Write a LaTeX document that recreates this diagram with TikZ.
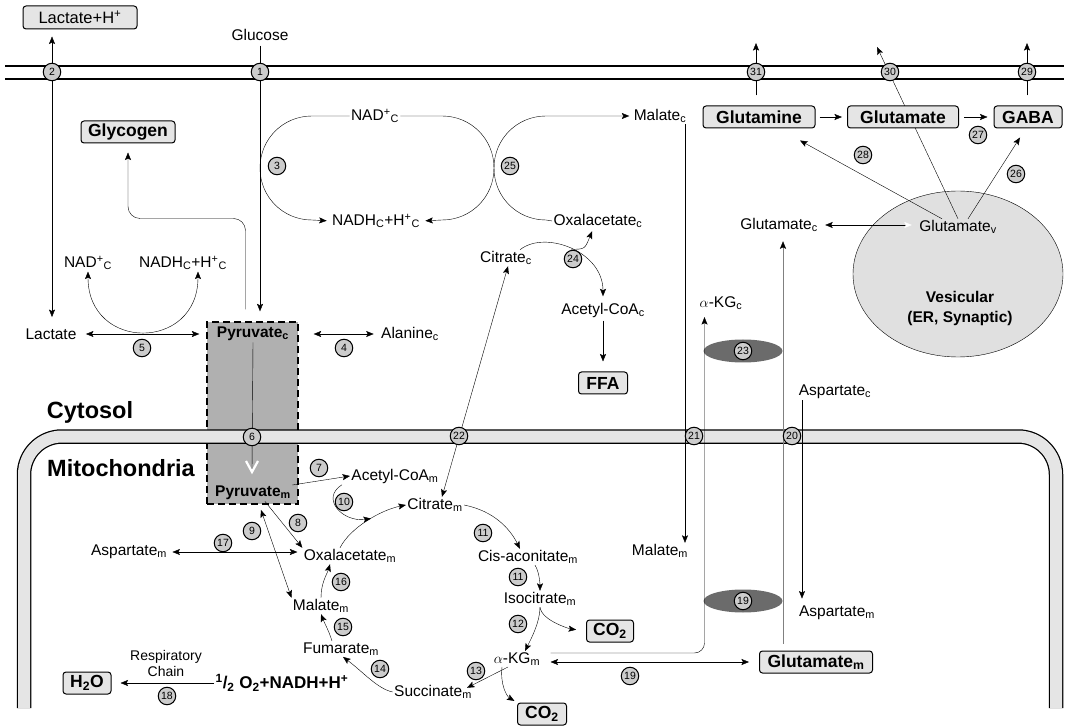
\documentclass[tikz,border=0pt]{standalone}
\usepackage{fontspec}
\setmainfont{Liberation Sans}
\usetikzlibrary{arrows.meta,shapes.geometric,calc}

\definecolor{boxgray}{gray}{0.9}
\definecolor{numgray}{gray}{0.8}
\definecolor{pyrgray}{gray}{0.69}
\definecolor{membgray}{gray}{0.9}
\definecolor{vesgray}{gray}{0.88}
\definecolor{darkell}{gray}{0.42}

\pgfdeclarelayer{back}
\pgfdeclarelayer{mid}
\pgfsetlayers{back,mid,main}

\tikzset{
  lbl/.style={font=\fontsize{15.5}{17}\selectfont, inner sep=1pt},
  blbl/.style={font=\bfseries\fontsize{15.5}{17}\selectfont, inner sep=1pt},
  bx/.style={draw, rounded corners=3pt, fill=boxgray, font=\bfseries\fontsize{17.5}{19}\selectfont, inner sep=0pt, minimum height=22pt},
  num/.style={circle, draw, fill=numgray, inner sep=0pt, minimum size=17.5pt, font=\fontsize{10.5}{10.5}\selectfont},
  compname/.style={font=\bfseries\fontsize{23.5}{26}\selectfont, inner sep=0pt},
  arr/.style={-{Stealth[length=7.5pt,width=6pt,inset=1.5pt]}},
  darr/.style={{Stealth[length=7.5pt,width=6pt,inset=1.5pt]}-{Stealth[length=7.5pt,width=6pt,inset=1.5pt]}},
  arrg/.style={draw=gray, -{Stealth[length=7.5pt,width=6pt,inset=1.5pt,black]}},
}

\begin{document}
\begin{tikzpicture}[x=1pt,y=-1pt,line width=1pt]
  \useasboundingbox (0,0) rectangle (1069,727);

  % Citosol
  \node[bx, font=\fontsize{16.5}{18}\selectfont, minimum width=114pt, minimum height=23pt] (lach) at (80,17.5) {Lactate+H\textsuperscript{+}};
  \node[lbl] (glucose) at (260,35) {Glucose};
  \node[bx, minimum width=94pt] (glyc) at (128,132) {Glycogen};
  \node[lbl] (nadc) at (375,116) {NAD\textsuperscript{+}\textsubscript{C}};
  \node[lbl] (nadhc) at (376,221) {NADH\textsubscript{C}+H\textsuperscript{+}\textsubscript{C}};
  \node[lbl] (malc) at (660,116) {Malate\textsubscript{c}};
  \node[lbl] (oaac) at (598,221) {Oxalacetate\textsubscript{c}};
  \node[lbl] (citc) at (506,258) {Citrate\textsubscript{c}};
  \node[lbl] (accoac) at (603,310) {Acetyl-CoA\textsubscript{c}};
  \node[bx, minimum width=49pt] (ffa) at (603,383) {FFA};
  \node[lbl] (nad2) at (88,263) {NAD\textsuperscript{+}\textsubscript{C}};
  \node[lbl] (nadh2) at (183,263) {NADH\textsubscript{C}+H\textsuperscript{+}\textsubscript{C}};
  \node[lbl] (lac) at (51,334) {Lactate};
  \node[blbl] (pyrc) at (253,334) {Pyruvate\textsubscript{c}};
  \node[lbl] (alac) at (410,334) {Alanine\textsubscript{c}};
  \node[compname] (cyto) at (90,412) {Cytosol};
  \node[compname] (mito) at (121,468) {Mitochondria};

  % Mitocondria
  \node[blbl] (pyrm) at (253,493) {Pyruvate\textsubscript{m}};
  \node[lbl] (accoam) at (395,476) {Acetyl-CoA\textsubscript{m}};
  \node[lbl] (citm) at (435,505) {Citrate\textsubscript{m}};
  \node[lbl] (cisac) at (528,557) {Cis-aconitate\textsubscript{m}};
  \node[lbl] (isoc) at (540,599) {Isocitrate\textsubscript{m}};
  \node[bx, minimum width=47pt] (co2a) at (610,631) {CO\textsubscript{2}};
  \node[lbl] (akgm) at (517,659) {$\alpha$-KG\textsubscript{m}};
  \node[bx, minimum width=49pt] (co2b) at (542,714) {CO\textsubscript{2}};
  \node[lbl] (succ) at (433,692) {Succinate\textsubscript{m}};
  \node[lbl] (fum) at (341,649) {Fumarate\textsubscript{m}};
  \node[lbl] (malm) at (321,606) {Malate\textsubscript{m}};
  \node[lbl] (oaam) at (350,556) {Oxalacetate\textsubscript{m}};
  \node[lbl] (aspm) at (129,552) {Aspartate\textsubscript{m}};
  \node[blbl, font=\bfseries\fontsize{17}{19}\selectfont] (o2) at (282,683) {\textsuperscript{1}/\textsubscript{2} O\textsubscript{2}+NADH+H\textsuperscript{+}};
  \node[bx, minimum width=48pt] (h2o) at (87,683) {H\textsubscript{2}O};
  \node[lbl, font=\fontsize{14}{16}\selectfont, align=center] (resp) at (166,663) {Respiratory\\Chain};
  \node[lbl] (malm2) at (660,551) {Malate\textsubscript{m}};
  \node[lbl] (akgc) at (721,303) {$\alpha$-KG\textsubscript{c}};
  \node[bx, minimum width=113pt] (glum) at (816,662) {Glutamate\textsubscript{m}};
  \node[lbl] (aspc) at (835,392) {Aspartate\textsubscript{c}};
  \node[lbl] (aspm2) at (837,613) {Aspartate\textsubscript{m}};

  % Glutamato
  \node[lbl] (glutc) at (779,225) {Glutamate\textsubscript{c}};
  \node[lbl] (glutv) at (958,227) {Glutamate\textsubscript{v}};
  \node[bx, minimum width=112pt] (glnt) at (759,117) {Glutamine};
  \node[bx, minimum width=111pt] (glut) at (903,117) {Glutamate};
  \node[bx, minimum width=68pt] (gaba) at (1028,117) {GABA};
  \node[blbl, font=\bfseries\fontsize{15.5}{20}\selectfont, align=center] (vestxt) at (960,308) {Vesicular\\(ER, Synaptic)};

  \coordinate (kiss3) at (260,168);
  \coordinate (kiss25) at (494,168);
  \coordinate (out31) at (756,43);
  \coordinate (out30) at (877,47);
  \coordinate (out29) at (1027,43);

  % Transportadores
  \foreach \nm/\n/\x/\y in {c1/1/260/72, c2/2/52/72, c3/3/277/166, c4/4/344/348, c5/5/142/348,
      c6/6/252/437, c7/7/319/468, c8/8/298/523, c9/9/252/531, c10/10/344/502, c11a/11/483/533,
      c11b/11/518/577, c12/12/518/624, c13/13/476/671, c14/14/380/669, c15/15/343/627,
      c16/16/341/582, c17/17/223/543, c18/18/167/696, c19a/19/630/676, c19b/19/743/601,
      c20/20/792/436, c21/21/694/436, c22/22/459/436, c23/23/743/351, c24/24/573/259,
      c25/25/510/166, c26/26/1016/174, c27/27/978/135, c28/28/863/155, c29/29/1027/72,
      c30/30/890/72, c31/31/756/72}
    \node[num] (\nm) at (\x,\y) {\n};

  \begin{pgfonlayer}{back}
    % Membranas
    \draw[line width=1.4pt] (5,66) -- (1064,66);
    \draw[line width=1.4pt] (5,79) -- (1064,79);
    \node[draw, dash pattern=on 7pt off 4pt, line width=1.3pt, fill=pyrgray, minimum width=91pt, minimum height=182pt, inner sep=0pt] (pyrbox) at (252.5,413) {};
    \draw[line width=14.5pt, rounded corners=38pt] (24,708) |- (1056,436.5) -- (1056,708);
    \draw[line width=12pt, membgray, rounded corners=38pt] (24,708) |- (1056,436.5) -- (1056,708);
    \node[ellipse, draw, fill=vesgray, minimum width=210pt, minimum height=166pt, inner sep=0pt] (ves) at (958,274) {};
    \node[ellipse, fill=darkell, minimum width=79pt, minimum height=23pt, inner sep=0pt] (ch23) at (743,351) {};
    \node[ellipse, fill=darkell, minimum width=79pt, minimum height=23pt, inner sep=0pt] (ch19) at (743,601) {};
  \end{pgfonlayer}

  \begin{pgfonlayer}{mid}
    % Glicolise
    \draw[arr, shorten <=3.5pt, shorten >=10pt] (glucose.south) -- (glucose.south |- pyrbox.north);
    \draw[darr, shorten <=7pt, shorten >=10pt] (c2 |- lach.south) -- (c2 |- lac.north);
    \draw[arr, rounded corners=12pt] ([xshift=-7pt,yshift=12pt]pyrbox.north) |- ([yshift=-75pt]glyc.south) -- ([yshift=-9pt]glyc.south);
    \draw[arr, shorten >=4pt] (nadc.west) -- ($(kiss3)+(52,-52)$) .. controls +(-29,0) and +(0,-29) .. (kiss3)
      .. controls +(0,29) and +(-29,0) .. ($(kiss3)+(52,52)$) -- (nadhc.west);
    \draw[arr, shorten >=4pt] (nadc.east) -- ($(kiss25)+(-52,-52)$) .. controls +(29,0) and +(0,-29) .. (kiss25)
      .. controls +(0,29) and +(29,0) .. ($(kiss25)+(-52,52)$) -- (nadhc.east);
    \draw[arr, shorten >=3pt] (oaac.west) -- ($(kiss25)+(52,52)$) .. controls +(-29,0) and +(0,29) .. (kiss25)
      .. controls +(0,-29) and +(-29,0) .. ($(kiss25)+(52,-52)$) -- (malc.west);

    % Lactato e alanina
    \draw[darr] (nad2.south) .. controls +(0,80) and +(0,80) .. ([xshift=15pt]nadh2.south);
    \draw[darr, shorten <=8pt, shorten >=7pt] (lac.east) -- (lac -| pyrbox.west);
    \draw[darr, shorten <=15pt, shorten >=6pt] (pyrbox.east |- alac) -- (alac.west);

    % Piruvato
    \draw (pyrc.south) -- ($(c6)+(0,33)$);
    \draw[white, line width=2.2pt] ($(c6)+(-6,24)$) -- ($(c6)+(0,35)$) -- ($(c6)+(6,24)$);
    \draw[arr] ([yshift=8pt]pyrm.east) -- (accoam.west);
    \draw[arr] ([xshift=12pt]pyrm.south) -- (oaam.north west);
    \draw[darr, shorten <=9pt] ([xshift=5pt]pyrm.south) -- (malm.north west);
    \draw[darr, shorten <=4pt, shorten >=5pt] (aspm.east) -- (aspm.east -| oaam.west);

    % Ciclo de Krebs
    \draw[arr] ([xshift=-10pt]oaam.north) .. controls +(10,-20) and +(-25,5) .. coordinate[pos=0.55] (m10) (citm.west);
    \draw[arr] ([xshift=-8pt]accoam.south west) .. controls +(-22,14) and +(-28,4) .. (m10);
    \draw[darr] ([xshift=7pt]citm.north) -- ([xshift=2pt]citc.south);
    \draw[arr] (citm.east) .. controls +(30,6) and +(-10,-20) .. ([xshift=-8pt]cisac.north);
    \draw[arr] ([xshift=7pt]cisac.south) .. controls +(4,6) and +(0,-8) .. (isoc.north);
    \draw[arr] (isoc.south) .. controls +(0,15) and +(6,-12) .. ([xshift=8pt]akgm.north);
    \draw[arr, shorten >=10pt] (isoc.south) .. controls +(2,14) and +(-15,-2) .. (co2a.west);
    \draw[arr] ([xshift=-9pt]akgm.south) -- ([xshift=34pt,yshift=-4pt]succ.north);
    \draw[arr, shorten >=3pt] ([xshift=-15pt]akgm.south) .. controls +(-2,18) and +(-10,-6) .. (co2b.north west);
    \draw[arr] (succ.west) .. controls +(-15,-3) and +(20,15) .. ([xshift=2pt]fum.south);
    \draw[arr] ([xshift=-9pt]fum.north) .. controls +(-3,-10) and +(4,10) .. (malm.south);
    \draw[arr] (malm.north) .. controls +(0,-15) and +(-3,10) .. ([xshift=-20pt]oaam.south);
    \draw[arr, shorten >=9pt] (o2.west) -- (h2o.east);

    % Transporte mitocondrial
    \draw[arr] ([xshift=25pt]malc.south) -- ([xshift=25pt]malm2.north);
    \draw[arr, rounded corners=10pt, shorten <=9pt, shorten >=6pt] ([yshift=6pt]akgm.east) -| ([xshift=-16.5pt]akgc.south);
    \draw[darr, shorten <=9pt, shorten >=10pt] ([yshift=-3pt]akgm.east) -- ([yshift=-3pt]akgm.east -| glum.west);
    \draw[arrg, shorten <=7pt, shorten >=8pt] ([xshift=-33pt]glum.north) -- ([xshift=-33pt]glum.north |- glutc.south);
    \draw[arr, shorten >=6pt] ([xshift=-33pt]aspc.south) -- ([xshift=-33pt]aspc.south |- aspm2.north);

    % Citrato e acidos graxos
    \draw[arr, shorten >=5pt] ([xshift=14pt]citc.north) .. controls +(25,-20) and +(0,-50) .. coordinate[pos=0.5] (b24) (accoac.north);
    \draw[arr] (b24) .. controls +(14,0) .. ([xshift=-6pt,yshift=-2pt]oaac.south);
    \draw[arr, shorten <=2pt, shorten >=10pt] (accoac.south) -- (ffa.north);

    % Glutamato vesicular
    \draw[{Stealth[length=7.5pt,width=6pt,inset=1.5pt]}-{Stealth[length=7.5pt,width=6pt,inset=1.5pt,white]}, shorten <=6pt, shorten >=6pt] (glutc.east) -- (glutc.east -| glutv.west);
    \draw[arr] ([xshift=-16pt]glutv.north) -- ([xshift=41pt,yshift=-12pt]glnt.south);
    \draw[arr] (glutv.north) -- (out30);
    \draw[arr] ([xshift=10pt]glutv.north) -- ([xshift=-8pt,yshift=-9pt]gaba.south);
    \draw[arr, shorten <=10pt] (out31 |- glnt.north) -- (out31);
    \draw[arr, shorten <=10pt] (out29 |- gaba.north) -- (out29);
    \draw[arr, shorten <=4pt, shorten >=5pt] (glnt.east) -- (glut.west);
    \draw[arr, shorten <=5pt, shorten >=6pt] (glut.east) -- (gaba.west);
  \end{pgfonlayer}
\end{tikzpicture}
\end{document}
